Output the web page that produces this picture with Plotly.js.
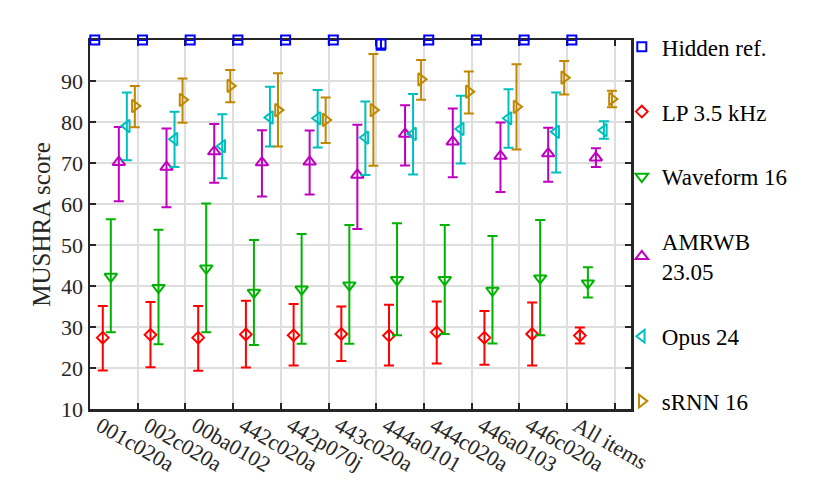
<!DOCTYPE html>
<html>
<head>
<meta charset="utf-8">
<script src="https://cdn.plot.ly/plotly-3.0.1.min.js"></script>
<style>
  body { margin: 0; background: #fff; }
  #chart { width: 830px; height: 493px; }
</style>
</head>
<body>
<div id="chart"></div>
<script>
var items = ['001c020a', '002c020a', '00ba0102', '442c020a', '442p070j', '443c020a',
             '444a0101', '444c020a', '446a0103', '446c020a', 'All items'];

// mean score, upper and lower end of the confidence interval per item
var hidMean = [100, 100, 100, 100, 100, 100, 99.0, 100, 100, 100, 100];
var hidHi   = [100, 100, 100, 100, 100, 100, 100.4, 100, 100, 100, 100];
var hidLo   = [100, 100, 100, 100, 100, 100, 97.6, 100, 100, 100, 100];

var lpMean = [27.4, 28.1, 27.4, 28.2, 28.0, 28.3, 27.9, 28.7, 27.4, 28.3, 27.9];
var lpHi   = [35.1, 36.1, 35.1, 36.4, 35.6, 35.0, 35.4, 36.2, 33.9, 36.0, 29.9];
var lpLo   = [19.4, 20.2, 19.3, 20.1, 20.6, 21.7, 20.6, 21.1, 20.8, 20.6, 26.0];

var wfMean = [42.3, 39.6, 44.3, 38.4, 39.2, 40.2, 41.5, 41.5, 38.9, 41.9, 40.7];
var wfHi   = [56.3, 53.7, 60.1, 51.2, 52.7, 54.9, 55.3, 54.9, 52.2, 56.1, 44.6];
var wfLo   = [28.7, 25.8, 28.7, 25.6, 25.9, 25.9, 28.0, 28.3, 26.0, 28.0, 37.2];

var amrMean = [70.2, 69.0, 72.8, 70.1, 70.3, 67.1, 77.1, 75.2, 71.7, 72.3, 71.3];
var amrHi   = [78.8, 78.4, 79.5, 78.0, 77.9, 79.3, 84.1, 83.3, 79.9, 78.6, 73.6];
var amrLo   = [60.7, 59.2, 65.2, 61.8, 62.3, 53.9, 69.4, 66.5, 62.9, 65.4, 69.0];

var opusMean = [79.0, 75.8, 74.1, 81.1, 80.9, 76.2, 77.1, 78.3, 80.9, 77.6, 78.0];
var opusHi   = [87.2, 82.5, 81.9, 88.6, 87.8, 85.0, 86.8, 86.4, 88.0, 87.2, 80.2];
var opusLo   = [70.7, 69.0, 66.3, 74.0, 73.8, 67.1, 67.2, 69.9, 73.7, 67.7, 75.9];

var rnnMean = [83.9, 85.4, 88.8, 82.9, 80.5, 82.9, 90.4, 87.4, 83.7, 90.8, 85.6];
var rnnHi   = [88.8, 90.6, 92.7, 91.9, 86.0, 96.6, 95.1, 92.3, 94.1, 94.9, 87.6];
var rnnLo   = [78.7, 79.8, 84.8, 74.0, 74.9, 69.3, 85.4, 82.1, 73.3, 86.7, 83.6];

var series = [
  {name: 'Hidden ref.',     mean: hidMean,  hi: hidHi,  lo: hidLo,  color: '#0000FF', symbol: 'square-open',         size: 9},
  {name: 'LP 3.5 kHz',      mean: lpMean,   hi: lpHi,   lo: lpLo,   color: '#FF0000', symbol: 'diamond-open',        size: 9},
  {name: 'Waveform 16',     mean: wfMean,   hi: wfHi,   lo: wfLo,   color: '#00B300', symbol: 'triangle-down-open',  size: 11},
  {name: 'AMRWB<br>23.05',  mean: amrMean,  hi: amrHi,  lo: amrLo,  color: '#BF00BF', symbol: 'triangle-up-open',    size: 11},
  {name: 'Opus 24',         mean: opusMean, hi: opusHi, lo: opusLo, color: '#00BFBF', symbol: 'triangle-left-open',  size: 11},
  {name: 'sRNN 16',         mean: rnnMean,  hi: rnnHi,  lo: rnnLo,  color: '#BF8800', symbol: 'triangle-right-open', size: 11}
];

// each item gets a slot of width 1, the six systems sit side by side in it
var offsets = [0.1, 0.268, 0.436, 0.604, 0.772, 0.94];

var serif = 'Liberation Serif, DejaVu Serif, serif';
var tickFont = {family: serif, size: 22, color: '#262626'};
var titleFont = {family: serif, size: 25, color: '#262626'};
var legendFont = {family: serif, size: 23, color: '#000000'};

var data = series.map(function(s, k) {
  return {
    type: 'scatter',
    mode: 'markers',
    name: s.name,
    legendgroup: 'g' + k,
    x: items.map(function(_, i) { return i + offsets[k]; }),
    y: s.mean,
    cliponaxis: false,
    marker: {symbol: s.symbol, size: s.size, color: s.color, line: {color: s.color, width: 2}},
    error_y: {
      type: 'data',
      symmetric: false,
      array: s.mean.map(function(v, i) { return s.hi[i] - v; }),
      arrayminus: s.mean.map(function(v, i) { return v - s.lo[i]; }),
      color: s.color,
      thickness: 2,
      width: 5
    }
  };
});

var tickvals = items.map(function(_, i) { return i; }).concat([items.length]);
var ticktext = items.concat(['']);

var layout = {
  width: 830,
  height: 493,
  margin: {l: 90, r: 199, t: 40, b: 84, pad: 0},
  paper_bgcolor: '#ffffff',
  plot_bgcolor: '#ffffff',
  font: tickFont,
  showlegend: true,
  legend: {
    x: 0.983, xanchor: 'left',
    y: 1.04, yanchor: 'top',
    font: legendFont,
    bgcolor: 'rgba(0,0,0,0)',
    tracegroupgap: 32,
    itemwidth: 30,
    maxheight: 480
  },
  xaxis: {
    range: [0, 11.34],
    tickmode: 'array',
    tickvals: tickvals,
    ticktext: ticktext,
    tickangle: 30,
    ticklabelshift: 10,
    ticklabelstandoff: -7,
    ticks: 'inside',
    ticklen: 6,
    tickwidth: 2,
    tickcolor: '#262626',
    showline: true,
    linecolor: '#262626',
    linewidth: 2.5,
    mirror: 'ticks',
    showgrid: true,
    gridcolor: '#dedede',
    gridwidth: 2,
    zeroline: false,
    layer: 'below traces',
    tickfont: tickFont
  },
  yaxis: {
    range: [10, 100],
    tickmode: 'array',
    tickvals: [10, 20, 30, 40, 50, 60, 70, 80, 90],
    ticks: 'inside',
    ticklen: 6,
    tickwidth: 2,
    tickcolor: '#262626',
    showline: true,
    linecolor: '#262626',
    linewidth: 2.5,
    mirror: 'ticks',
    showgrid: true,
    gridcolor: '#dedede',
    gridwidth: 2,
    zeroline: false,
    layer: 'below traces',
    tickfont: tickFont,
    title: {text: 'MUSHRA score', font: titleFont, standoff: 4}
  }
};

Plotly.newPlot('chart', data, layout, {displayModeBar: false, staticPlot: true});
</script>
</body>
</html>
